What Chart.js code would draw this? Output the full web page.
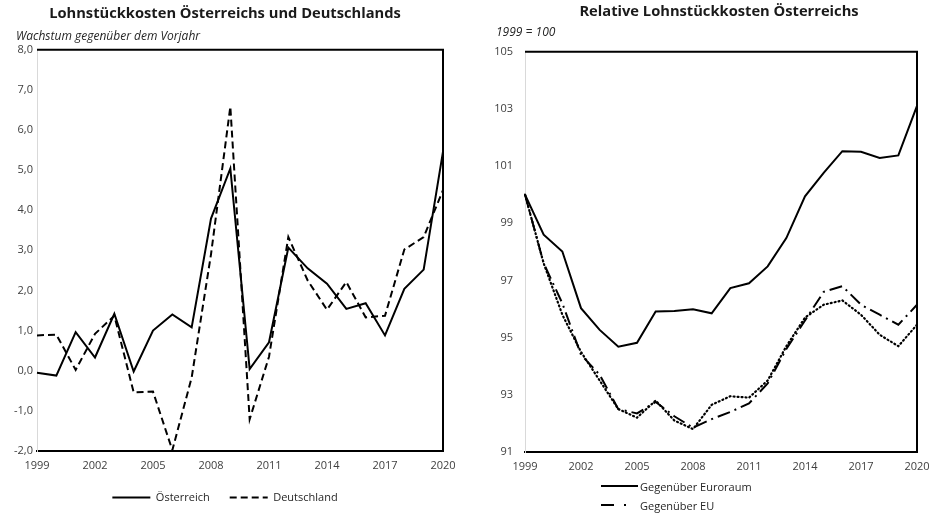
<!DOCTYPE html>
<html>
<head>
<meta charset="utf-8">
<script src="https://cdn.jsdelivr.net/npm/chart.js@4.4.0/dist/chart.umd.min.js"></script>
<style>
  body { margin: 0; background: #fff; font-family: "Open Sans", sans-serif; overflow: hidden; }
  #wrap { position: relative; width: 935px; height: 514px; overflow: hidden; }
  #left { position: absolute; left: 0; top: 0; }
  #right { position: absolute; left: 480px; top: 0; }
  .leg { position: absolute; left: 601px; font-size: 11px; color: #262626; display: flex; align-items: center; height: 16px; }
  .leg svg { margin-right: 2px; }
</style>
</head>
<body>
<div id="wrap">
  <canvas id="left" width="470" height="514"></canvas>
  <canvas id="right" width="478" height="514"></canvas>
  <div class="leg" style="top:478px"><svg width="37" height="4"><line x1="0" y1="2" x2="37" y2="2" stroke="#000" stroke-width="2"/></svg>Gegenüber Euroraum</div>
  <div class="leg" style="top:497px"><svg width="37" height="4"><line x1="0" y1="2" x2="37" y2="2" stroke="#000" stroke-width="2" stroke-dasharray="13 10 2 12"/></svg>Gegenüber EU</div>
</div>
<script>
const years = ['1999','2000','2001','2002','2003','2004','2005','2006','2007','2008','2009','2010','2011','2012','2013','2014','2015','2016','2017','2018','2019','2020'];

// Wachstum gegenüber dem Vorjahr, in %
const oesterreich = [-0.05, -0.12, 0.96, 0.33, 1.42, -0.02, 1.0, 1.4, 1.08, 3.79, 5.04, 0.04, 0.71, 3.07, 2.55, 2.17, 1.54, 1.68, 0.88, 2.04, 2.52, 5.46];
const deutschland = [0.88, 0.9, 0.02, 0.92, 1.37, -0.54, -0.52, -1.98, -0.17, 2.9, 6.58, -1.21, 0.35, 3.33, 2.25, 1.52, 2.21, 1.33, 1.37, 3.02, 3.33, 4.5];

// relative Lohnstückkosten, 1999 = 100
const euroraum = [100, 98.6, 98.01, 96.03, 95.27, 94.68, 94.82, 95.91, 95.93, 95.99, 95.85, 96.73, 96.9, 97.49, 98.48, 99.94, 100.76, 101.52, 101.5, 101.28, 101.37, 103.1];
const eu = [100, 97.6, 96.2, 94.4, 93.7, 92.5, 92.35, 92.75, 92.25, 91.85, 92.15, 92.4, 92.7, 93.4, 94.6, 95.6, 96.6, 96.8, 96.15, 95.8, 95.45, 96.15];
const handelspartner = [100, 97.6, 95.8, 94.5, 93.5, 92.5, 92.2, 92.8, 92.1, 91.8, 92.65, 92.95, 92.9, 93.5, 94.7, 95.7, 96.15, 96.3, 95.8, 95.1, 94.7, 95.45];

const tickColor = '#404040';
const font = { family: '"Open Sans", sans-serif', size: 11 };
const titleFont = { family: '"Open Sans", sans-serif', size: 14.7, weight: 'bold' };

// black top + right frame, italic unit note above the plot
const frame = {
  id: 'frame',
  afterDraw(chart, args, opts) {
    const {ctx, chartArea: a} = chart;
    ctx.save();
    ctx.strokeStyle = '#000';
    ctx.lineWidth = 2;
    ctx.beginPath();
    ctx.moveTo(a.left, a.top);
    ctx.lineTo(a.right, a.top);
    ctx.lineTo(a.right, a.bottom);
    ctx.stroke();
    ctx.font = 'italic 12px "Open Sans", sans-serif';
    ctx.fillStyle = '#262626';
    ctx.textBaseline = 'middle';
    ctx.fillText(opts.note, opts.noteX, opts.noteY);
    ctx.restore();
  }
};

function line(label, data, dash, extra) {
  return Object.assign({
    label, data,
    borderColor: '#000', backgroundColor: '#000',
    borderWidth: 2, borderDash: dash,
    pointRadius: 0, tension: 0, fill: false
  }, extra || {});
}

function xScale() {
  return {
    grid: { display: false, drawTicks: false },
    border: { color: '#000', width: 2 },
    ticks: {
      color: tickColor, font, autoSkip: false, maxRotation: 0, padding: 8,
      callback(v, i) { return i % 3 === 0 ? this.getLabelForValue(v) : ''; }
    },
    afterFit(s) { s.height = 21; }
  };
}

new Chart(document.getElementById('left'), {
  type: 'line',
  data: {
    labels: years,
    datasets: [
      line('Österreich', oesterreich, []),
      line('Deutschland', deutschland, [7, 4])
    ]
  },
  options: {
    responsive: false,
    animation: false,
    layout: { padding: { left: 7, right: 27, bottom: 1 } },
    plugins: {
      title: {
        display: true, text: 'Lohnstückkosten Österreichs und Deutschlands',
        color: '#1a1a1a', font: titleFont,
        padding: { top: 5, bottom: 27 }
      },
      legend: {
        position: 'bottom',
        labels: {
          usePointStyle: true, pointStyle: 'line', pointStyleWidth: 38,
          color: '#262626', font, padding: 20,
          generateLabels(chart) {
            const items = Chart.defaults.plugins.legend.labels.generateLabels(chart);
            items.forEach(it => {
              it.lineDash = chart.data.datasets[it.datasetIndex].borderDash;
              it.lineWidth = 2;
            });
            return items;
          }
        }
      },
      tooltip: { enabled: false },
      frame: { note: 'Wachstum gegenüber dem Vorjahr', noteX: 16, noteY: 37 }
    },
    scales: {
      x: xScale(),
      y: {
        min: -2, max: 8,
        grid: { display: false, drawTicks: false },
        border: { color: '#d9d9d9', width: 1 },
        ticks: { stepSize: 1, color: tickColor, font, padding: 4,
          callback: v => v.toFixed(1).replace('.', ',') },
        afterFit(s) { s.width = 30; }
      }
    }
  },
  plugins: [frame]
});

new Chart(document.getElementById('right'), {
  type: 'line',
  data: {
    labels: years,
    datasets: [
      line('Gegenüber Euroraum', euroraum, []),
      line('Gegenüber EU', eu, [13, 5, 2, 5]),
      line('Gegenüber Handelspartnern', handelspartner, [1, 3], { borderCapStyle: 'round', borderWidth: 2.2 })
    ]
  },
  options: {
    responsive: false,
    animation: false,
    layout: { padding: { left: 9, right: 9, bottom: 41 } },
    plugins: {
      title: {
        display: true, text: 'Relative Lohnstückkosten Österreichs',
        color: '#1a1a1a', font: titleFont,
        padding: { top: 3, bottom: 31 }
      },
      legend: { display: false },
      tooltip: { enabled: false },
      frame: { note: '1999 = 100', noteX: 16, noteY: 33 }
    },
    scales: {
      x: xScale(),
      y: {
        min: 91, max: 105,
        grid: { display: false, drawTicks: false },
        border: { color: '#d9d9d9', width: 1 },
        ticks: { stepSize: 2, color: tickColor, font, padding: 12 },
        afterFit(s) { s.width = 36; }
      },
      // empty spacer on the right so the title sits where the original has it
      spacer: {
        position: 'right', min: 91, max: 105,
        grid: { display: false, drawTicks: false },
        border: { display: false },
        ticks: { display: false },
        afterFit(s) { s.width = 32; }
      }
    }
  },
  plugins: [frame]
});
</script>
</body>
</html>
